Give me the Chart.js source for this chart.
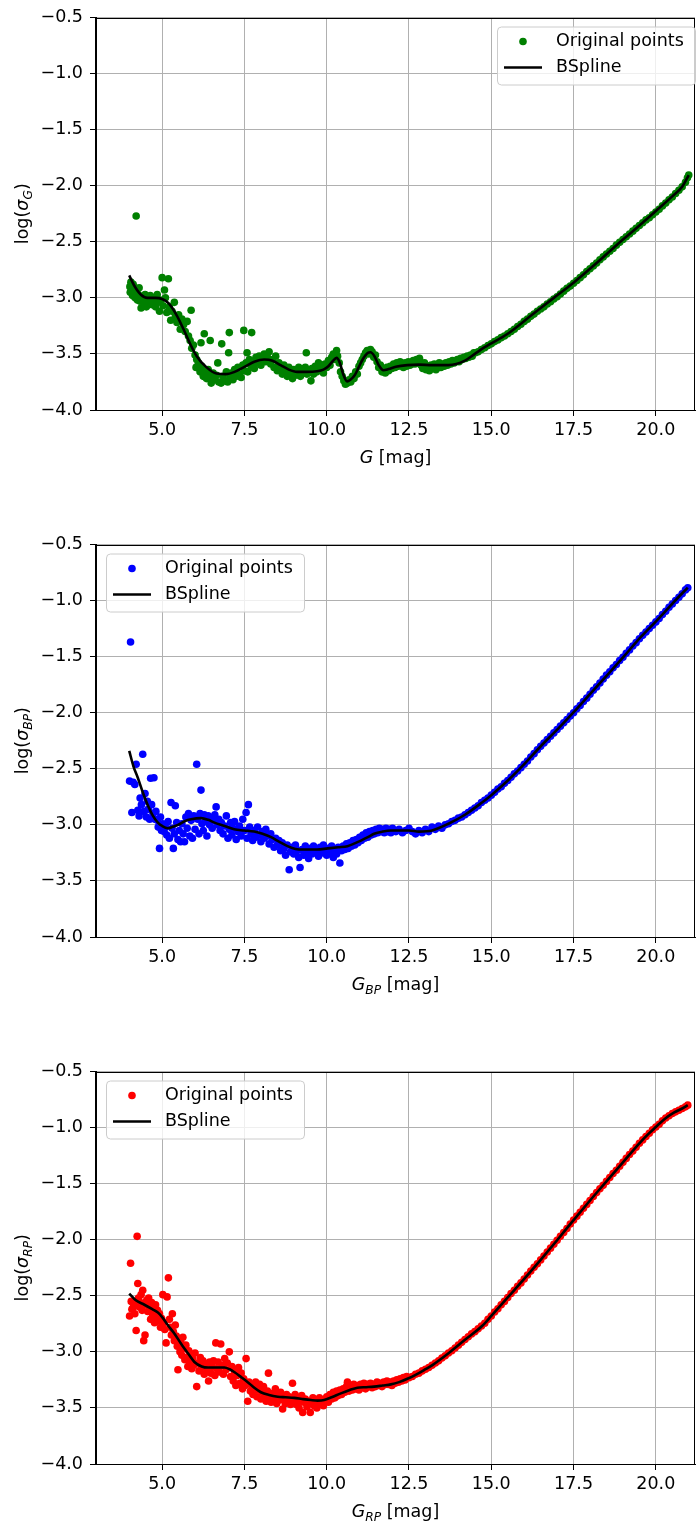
<!DOCTYPE html>
<html><head><meta charset="utf-8">
<script src="https://cdn.jsdelivr.net/npm/chart.js@4.4.1/dist/chart.umd.min.js"></script>
<style>
html,body{margin:0;padding:0;background:#fff;}
body{width:699px;height:1524px;position:relative;overflow:hidden;}
canvas{position:absolute;left:0;}
</style></head><body>
<canvas id="c1" width="699" height="527" style="top:0px"></canvas>
<canvas id="c2" width="699" height="527" style="top:527px"></canvas>
<canvas id="c3" width="699" height="470" style="top:1054px"></canvas>
<script>
// ---- tick labels ----
const xTicks = [5.0, 7.5, 10.0, 12.5, 15.0, 17.5, 20.0];
const yTicks = [-4.0, -3.5, -3.0, -2.5, -2.0, -1.5, -1.0, -0.5];
const legendLabels = ['Original points', 'BSpline'];

// ---- G band: [mag, log sigma] ----
const gPoints = [
[4.02,-2.90],[4.03,-2.95],[4.05,-2.86],[4.07,-2.93],[4.10,-2.98],[4.12,-2.88],[4.15,-2.92],[4.18,-3.00],[4.21,-2.27],[4.22,-2.95],
[4.25,-3.02],[4.28,-2.97],[4.30,-2.91],[4.33,-3.03],[4.36,-3.09],[4.40,-2.99],[4.44,-3.04],[4.48,-2.97],[4.52,-3.08],[4.55,-3.01],
[4.60,-3.05],[4.64,-2.98],[4.68,-3.06],[4.72,-3.03],[4.76,-3.00],[4.80,-3.08],[4.85,-2.97],[4.88,-3.04],[4.92,-3.12],[4.95,-3.02],
[5.00,-2.82],[5.03,-3.07],[5.07,-2.93],[5.10,-3.00],[5.14,-3.13],[5.19,-2.83],[5.22,-3.08],[5.26,-3.20],[5.30,-3.12],[5.37,-3.04],
[5.40,-3.17],[5.45,-3.22],[5.50,-3.15],[5.55,-3.28],[5.60,-3.19],[5.65,-3.24],[5.70,-3.30],[5.76,-3.21],[5.80,-3.34],[5.85,-3.38],
[5.88,-3.11],[5.90,-3.45],[5.95,-3.42],[6.00,-3.51],[6.03,-3.62],[6.05,-3.55],[6.10,-3.58],[6.15,-3.66],[6.18,-3.40],[6.20,-3.61],
[6.25,-3.70],[6.28,-3.32],[6.30,-3.66],[6.35,-3.72],[6.40,-3.64],[6.45,-3.70],[6.46,-3.38],[6.49,-3.76],[6.55,-3.67],[6.60,-3.73],
[6.65,-3.69],[6.69,-3.58],[6.72,-3.75],[6.79,-3.76],[6.81,-3.41],[6.85,-3.70],[6.90,-3.74],[6.95,-3.66],[6.99,-3.75],[7.02,-3.49],
[7.04,-3.31],[7.06,-3.71],[7.10,-3.67],[7.15,-3.73],[7.20,-3.64],[7.25,-3.70],[7.30,-3.62],[7.35,-3.68],[7.40,-3.71],[7.45,-3.60],
[7.48,-3.29],[7.50,-3.65],[7.55,-3.58],[7.58,-3.49],[7.60,-3.66],[7.65,-3.55],[7.70,-3.61],[7.72,-3.31],[7.75,-3.57],[7.80,-3.63],
[7.85,-3.53],[7.90,-3.58],[7.95,-3.52],[8.00,-3.60],[8.05,-3.55],[8.10,-3.50],[8.15,-3.57],[8.20,-3.53],[8.25,-3.48],[8.30,-3.59],
[8.35,-3.55],[8.40,-3.62],[8.45,-3.52],[8.50,-3.65],[8.55,-3.58],[8.60,-3.62],[8.65,-3.68],[8.70,-3.60],[8.75,-3.65],[8.80,-3.70],
[8.85,-3.62],[8.90,-3.67],[8.96,-3.72],[9.00,-3.64],[9.05,-3.69],[9.10,-3.66],[9.15,-3.62],[9.20,-3.70],[9.25,-3.64],[9.30,-3.67],
[9.35,-3.62],[9.38,-3.49],[9.40,-3.68],[9.45,-3.65],[9.52,-3.74],[9.55,-3.63],[9.60,-3.68],[9.65,-3.61],[9.70,-3.66],[9.75,-3.58],
[9.80,-3.64],[9.85,-3.60],[9.90,-3.67],[9.95,-3.59],[10.00,-3.62],[10.05,-3.56],[10.10,-3.60],[10.15,-3.53],[10.20,-3.50],[10.25,-3.55],
[10.30,-3.47],[10.33,-3.52],[10.38,-3.58],[10.42,-3.66],[10.47,-3.70],[10.52,-3.74],[10.57,-3.77],[10.63,-3.76],[10.68,-3.73],[10.73,-3.75],
[10.78,-3.70],[10.83,-3.72],[10.88,-3.66],[10.93,-3.68],[10.98,-3.61],[11.03,-3.58],[11.08,-3.55],[11.13,-3.52],[11.18,-3.49],[11.23,-3.47],
[11.28,-3.50],[11.33,-3.46],[11.38,-3.48],[11.43,-3.53],[11.48,-3.51],[11.53,-3.57],[11.58,-3.62],[11.63,-3.60],[11.68,-3.66],[11.73,-3.64],
[11.78,-3.67],[11.83,-3.62],[11.88,-3.65],[11.93,-3.61],[11.98,-3.63],[12.03,-3.59],[12.08,-3.62],[12.13,-3.58],[12.18,-3.61],[12.23,-3.57],
[12.28,-3.60],[12.33,-3.62],[12.38,-3.58],[12.43,-3.61],[12.48,-3.57],[12.53,-3.60],[12.58,-3.59],[12.63,-3.56],[12.68,-3.59],[12.73,-3.55],
[12.78,-3.58],[12.82,-3.54],[12.87,-3.60],[12.92,-3.63],[12.97,-3.58],[13.02,-3.64],[13.07,-3.61],[13.12,-3.65],[13.17,-3.60],[13.22,-3.63],
[13.27,-3.59],[13.32,-3.64],[13.37,-3.61],[13.42,-3.58],[13.47,-3.62],[13.52,-3.59],[13.57,-3.61],[13.62,-3.58],[13.67,-3.60],[13.72,-3.57],
[13.77,-3.59],[13.82,-3.56],[13.87,-3.58],[13.92,-3.57],[13.97,-3.55],[14.02,-3.57],[14.07,-3.54],[14.12,-3.55],[14.17,-3.53],[14.22,-3.54],
[14.27,-3.52],[14.32,-3.53],[14.37,-3.51],[14.42,-3.52],[14.47,-3.49],[14.52,-3.49],
[14.6,-3.48],[14.7,-3.46],[14.8,-3.445],[14.9,-3.425],[15.0,-3.41],[15.1,-3.39],[15.2,-3.375],[15.3,-3.355],[15.4,-3.34],[15.5,-3.32],
[15.6,-3.30],[15.7,-3.28],[15.8,-3.255],[15.9,-3.235],[16.0,-3.21],[16.1,-3.19],[16.2,-3.165],[16.3,-3.145],[16.4,-3.12],[16.5,-3.10],
[16.6,-3.08],[16.7,-3.055],[16.8,-3.035],[16.9,-3.01],[17.0,-2.99],[17.1,-2.965],[17.2,-2.94],[17.3,-2.915],[17.4,-2.895],[17.5,-2.87],
[17.6,-2.845],[17.7,-2.82],[17.8,-2.795],[17.9,-2.765],[18.0,-2.74],[18.1,-2.715],[18.2,-2.69],[18.3,-2.66],[18.4,-2.635],[18.5,-2.61],
[18.6,-2.585],[18.7,-2.56],[18.8,-2.53],[18.9,-2.505],[19.0,-2.48],[19.1,-2.455],[19.2,-2.43],[19.3,-2.405],[19.4,-2.38],[19.5,-2.355],
[19.6,-2.33],[19.7,-2.305],[19.8,-2.285],[19.9,-2.26],[20.0,-2.235],[20.1,-2.21],[20.2,-2.18],[20.3,-2.155],[20.4,-2.125],[20.5,-2.10],
[20.6,-2.07],[20.7,-2.04],[20.8,-2.01],[20.9,-1.97],[20.96,-1.93],[21.0,-1.905]
];
const gSplineMag = [4.0,4.15,4.35,4.55,4.8,5.0,5.2,5.45,5.65,5.85,6.05,6.35,6.65,6.95,7.2,7.5,7.8,8.1,8.35,8.6,8.85,9.1,9.4,9.7,9.9,10.05,10.18,10.3,10.4,10.5,10.62,10.72,10.85,10.97,11.1,11.25,11.33,11.45,11.58,11.72,11.88,12.1,12.45,12.8,13.2,13.7,14.2,14.5,14.8,15.5,16.2,16.9,17.5,18.2,19.0,19.6,20.0,20.5,20.8,21.0];
const gSplineLog = [-2.80,-2.89,-2.97,-3.0,-3.0,-3.01,-3.05,-3.16,-3.28,-3.41,-3.52,-3.62,-3.675,-3.68,-3.66,-3.615,-3.57,-3.55,-3.56,-3.6,-3.64,-3.66,-3.66,-3.655,-3.64,-3.61,-3.565,-3.535,-3.58,-3.68,-3.745,-3.73,-3.69,-3.62,-3.545,-3.49,-3.485,-3.52,-3.6,-3.645,-3.635,-3.615,-3.60,-3.595,-3.60,-3.60,-3.56,-3.50,-3.44,-3.32,-3.16,-3.0,-2.865,-2.69,-2.48,-2.33,-2.225,-2.095,-2.01,-1.905];

// ---- BP band ----
const bpPoints = [
[4.04,-1.37],[4.01,-2.61],[4.08,-2.89],[4.12,-2.62],[4.17,-2.64],[4.21,-2.46],[4.26,-2.87],[4.30,-2.92],[4.33,-2.76],[4.37,-2.82],
[4.41,-2.37],[4.45,-2.88],[4.48,-2.72],[4.52,-2.93],[4.55,-2.79],[4.58,-2.86],[4.62,-2.95],[4.65,-2.585],[4.68,-2.82],[4.72,-2.90],
[4.75,-2.58],[4.78,-2.95],[4.81,-2.88],[4.85,-2.96],[4.88,-3.02],[4.92,-3.21],[4.95,-2.93],[4.98,-3.05],[5.02,-2.99],[5.06,-3.06],
[5.10,-3.02],[5.14,-3.09],[5.18,-2.97],[5.22,-3.12],[5.27,-2.80],[5.30,-3.03],[5.34,-3.21],[5.37,-3.08],[5.40,-2.83],[5.44,-2.98],
[5.48,-3.13],[5.52,-3.05],[5.56,-3.15],[5.60,-2.99],[5.64,-3.08],[5.68,-3.15],[5.72,-2.93],[5.76,-3.03],[5.80,-2.90],[5.84,-3.10],
[5.88,-2.96],[5.92,-3.12],[5.96,-2.92],[6.00,-3.04],[6.05,-2.46],[6.08,-2.95],[6.12,-3.08],[6.15,-2.90],[6.18,-2.69],[6.21,-2.99],
[6.25,-3.05],[6.28,-2.91],[6.32,-2.97],[6.36,-3.10],[6.40,-2.92],[6.44,-3.00],[6.48,-2.94],[6.52,-3.03],[6.56,-2.96],[6.60,-2.91],
[6.64,-2.84],[6.68,-3.00],[6.72,-2.95],[6.76,-3.05],[6.80,-2.98],[6.85,-3.08],[6.90,-3.01],[6.95,-2.92],[7.00,-3.12],[7.04,-3.04],
[7.08,-2.98],[7.12,-3.09],[7.16,-3.03],[7.20,-2.97],[7.25,-3.13],[7.30,-3.06],[7.35,-3.01],[7.40,-3.10],[7.45,-2.95],[7.50,-3.05],
[7.55,-2.89],[7.58,-3.12],[7.62,-2.82],[7.66,-3.02],[7.70,-3.08],[7.75,-3.14],[7.80,-3.05],[7.85,-3.11],[7.90,-3.02],[7.95,-3.09],
[8.00,-3.15],[8.05,-3.06],[8.10,-3.12],[8.15,-3.04],[8.20,-3.10],[8.25,-3.17],[8.30,-3.08],[8.35,-3.13],[8.40,-3.20],[8.45,-3.12],
[8.50,-3.18],[8.55,-3.14],[8.60,-3.23],[8.65,-3.16],[8.70,-3.21],[8.75,-3.27],[8.80,-3.18],[8.86,-3.40],[8.90,-3.24],[8.95,-3.20],
[9.00,-3.26],[9.05,-3.18],[9.10,-3.23],[9.15,-3.29],[9.19,-3.38],[9.25,-3.22],[9.30,-3.27],[9.35,-3.19],[9.40,-3.24],[9.45,-3.30],
[9.50,-3.21],[9.55,-3.26],[9.60,-3.19],[9.65,-3.24],[9.70,-3.22],[9.75,-3.28],[9.80,-3.20],[9.85,-3.25],[9.90,-3.18],[9.95,-3.23],
[10.00,-3.27],[10.05,-3.21],[10.10,-3.25],[10.15,-3.19],[10.20,-3.29],[10.25,-3.22],[10.30,-3.26],[10.35,-3.20],[10.40,-3.34],[10.45,-3.23],
[10.50,-3.19],[10.55,-3.22],[10.60,-3.17],[10.65,-3.21],[10.70,-3.16],[10.75,-3.19],[10.80,-3.14],[10.85,-3.18],[10.90,-3.13],[10.95,-3.16],
[11.00,-3.11],[11.05,-3.14],[11.10,-3.09],[11.15,-3.12],[11.20,-3.07],[11.25,-3.11],[11.30,-3.06],[11.35,-3.09],[11.40,-3.05],[11.45,-3.08],
[11.50,-3.04],[11.55,-3.07],[11.60,-3.03],[11.65,-3.06],[11.70,-3.04],[11.75,-3.07],[11.80,-3.03],[11.85,-3.06],[11.90,-3.04],[11.95,-3.07],
[12.0,-3.03],[12.1,-3.06],[12.2,-3.04],[12.3,-3.07],[12.4,-3.05],[12.5,-3.03],[12.6,-3.06],[12.7,-3.08],[12.8,-3.05],[12.9,-3.07],
[13.0,-3.04],[13.1,-3.06],[13.2,-3.02],[13.3,-3.04],[13.4,-3.01],[13.5,-3.03],[13.6,-3.00],[13.7,-2.99],[13.8,-2.97],[13.9,-2.96],
[14.0,-2.94],[14.1,-2.93],[14.2,-2.91],[14.3,-2.89],[14.4,-2.87],[14.5,-2.85],[14.6,-2.83],[14.7,-2.80],[14.8,-2.78],[14.9,-2.76],
[15.0,-2.735],[15.1,-2.71],[15.2,-2.68],[15.3,-2.66],[15.4,-2.63],[15.5,-2.605],[15.6,-2.575],[15.7,-2.545],[15.8,-2.52],[15.9,-2.49],
[16.0,-2.46],[16.1,-2.43],[16.2,-2.395],[16.3,-2.365],[16.4,-2.33],[16.5,-2.30],[16.6,-2.27],[16.7,-2.24],[16.8,-2.21],[16.9,-2.18],
[17.0,-2.15],[17.1,-2.12],[17.2,-2.09],[17.3,-2.06],[17.4,-2.03],[17.5,-2.0],[17.6,-1.965],[17.7,-1.935],[17.8,-1.90],[17.9,-1.87],
[18.0,-1.835],[18.1,-1.80],[18.2,-1.77],[18.3,-1.735],[18.4,-1.70],[18.5,-1.665],[18.6,-1.635],[18.7,-1.60],[18.8,-1.57],[18.9,-1.535],
[19.0,-1.505],[19.1,-1.47],[19.2,-1.44],[19.3,-1.405],[19.4,-1.375],[19.5,-1.34],[19.6,-1.31],[19.7,-1.28],[19.8,-1.25],[19.9,-1.22],
[20.0,-1.19],[20.1,-1.16],[20.2,-1.125],[20.3,-1.095],[20.4,-1.06],[20.5,-1.03],[20.6,-1.0],[20.7,-0.97],[20.8,-0.94],[20.9,-0.905],[20.97,-0.885]
];
const bpSplineMag = [4.0,4.13,4.26,4.4,4.57,4.72,4.87,5.0,5.17,5.3,5.48,5.7,5.88,6.18,6.4,6.59,6.9,7.19,7.5,7.8,8.05,8.31,8.55,8.81,9.05,9.32,9.7,10.03,10.35,10.63,10.85,11.04,11.25,11.44,11.7,11.95,12.5,12.8,13.2,13.7,14.2,14.72,15.0,15.52,16.03,16.53,17.04,17.49,18.04,18.55,19.05,19.56,19.99,20.26,20.67,20.97];
const bpSplineLog = [-2.34,-2.48,-2.58,-2.70,-2.83,-2.92,-2.98,-3.01,-3.03,-3.02,-3.0,-2.965,-2.95,-2.94,-2.955,-2.98,-3.01,-3.04,-3.05,-3.06,-3.08,-3.11,-3.15,-3.19,-3.215,-3.22,-3.22,-3.21,-3.20,-3.19,-3.165,-3.14,-3.11,-3.08,-3.06,-3.05,-3.05,-3.06,-3.05,-2.99,-2.91,-2.80,-2.735,-2.60,-2.45,-2.29,-2.14,-2.0,-1.82,-1.655,-1.49,-1.32,-1.19,-1.105,-0.975,-0.885];

// ---- RP band ----
const rpPoints = [
[4.01,-2.68],[4.04,-2.21],[4.06,-2.55],[4.08,-2.62],[4.11,-2.61],[4.14,-2.57],[4.17,-2.66],[4.21,-2.81],[4.24,-1.97],[4.26,-2.39],
[4.28,-2.52],[4.31,-2.60],[4.34,-2.56],[4.36,-2.49],[4.39,-2.63],[4.41,-2.45],[4.44,-2.90],[4.48,-2.85],[4.50,-2.58],[4.53,-2.54],
[4.56,-2.64],[4.59,-2.52],[4.62,-2.60],[4.65,-2.71],[4.68,-2.56],[4.71,-2.67],[4.74,-2.62],[4.77,-2.74],[4.80,-2.58],[4.83,-2.69],
[4.86,-2.63],[4.89,-2.72],[4.92,-2.66],[4.95,-2.78],[4.98,-2.70],[5.02,-2.49],[5.05,-2.74],[5.08,-2.80],[5.12,-2.92],[5.15,-2.51],
[5.19,-2.34],[5.22,-2.71],[5.25,-2.78],[5.28,-2.85],[5.31,-2.66],[5.34,-2.82],[5.37,-2.90],[5.40,-2.76],[5.43,-2.86],[5.46,-2.95],
[5.48,-3.16],[5.51,-2.89],[5.54,-3.00],[5.57,-2.92],[5.60,-3.03],[5.63,-2.87],[5.66,-2.97],[5.69,-3.07],[5.72,-2.94],[5.75,-3.05],
[5.78,-3.13],[5.81,-2.99],[5.84,-3.09],[5.87,-3.02],[5.90,-3.15],[5.93,-3.06],[5.96,-3.12],[6.00,-3.01],[6.05,-3.31],[6.08,-3.10],
[6.12,-3.17],[6.16,-3.05],[6.20,-3.14],[6.24,-3.08],[6.28,-3.20],[6.32,-3.11],[6.36,-3.17],[6.41,-3.26],[6.44,-3.09],[6.48,-3.19],
[6.52,-3.13],[6.56,-3.08],[6.60,-3.21],[6.63,-2.92],[6.66,-3.15],[6.70,-3.09],[6.74,-3.18],[6.78,-2.93],[6.82,-3.12],[6.86,-3.20],
[6.90,-3.06],[6.94,-3.16],[6.98,-3.10],[7.04,-3.00],[7.08,-3.22],[7.12,-3.13],[7.16,-3.26],[7.20,-3.17],[7.24,-3.30],[7.28,-3.21],
[7.32,-3.14],[7.36,-3.28],[7.40,-3.19],[7.44,-3.33],[7.48,-3.24],[7.52,-3.30],[7.55,-3.06],[7.60,-3.44],[7.64,-3.27],[7.68,-3.35],
[7.72,-3.30],[7.76,-3.38],[7.80,-3.32],[7.84,-3.27],[7.88,-3.40],[7.92,-3.34],[7.96,-3.29],[8.00,-3.42],[8.04,-3.36],[8.08,-3.31],
[8.12,-3.39],[8.16,-3.44],[8.20,-3.35],[8.23,-3.19],[8.27,-3.40],[8.31,-3.45],[8.35,-3.37],[8.40,-3.42],[8.44,-3.33],[8.48,-3.46],
[8.52,-3.38],[8.56,-3.43],[8.60,-3.36],[8.66,-3.51],[8.70,-3.41],[8.74,-3.46],[8.78,-3.38],[8.82,-3.44],[8.86,-3.40],[8.90,-3.47],
[8.96,-3.28],[9.00,-3.43],[9.04,-3.38],[9.08,-3.47],[9.12,-3.41],[9.16,-3.50],[9.20,-3.44],[9.24,-3.39],[9.27,-3.54],[9.31,-3.45],
[9.35,-3.42],[9.40,-3.49],[9.44,-3.44],[9.50,-3.54],[9.54,-3.46],[9.58,-3.41],[9.62,-3.48],[9.66,-3.44],[9.70,-3.50],[9.74,-3.45],
[9.78,-3.41],[9.82,-3.47],[9.86,-3.43],[9.90,-3.48],[9.95,-3.44],[10.00,-3.40],[10.05,-3.45],[10.10,-3.38],[10.15,-3.42],[10.20,-3.36],
[10.25,-3.41],[10.30,-3.35],[10.35,-3.39],[10.40,-3.34],[10.45,-3.38],[10.50,-3.33],[10.55,-3.36],[10.60,-3.31],[10.63,-3.27],[10.68,-3.35],
[10.72,-3.30],[10.78,-3.34],[10.82,-3.29],[10.88,-3.33],[10.93,-3.30],[10.98,-3.34],[11.03,-3.29],[11.08,-3.32],[11.13,-3.28],[11.18,-3.33],
[11.23,-3.29],[11.28,-3.31],[11.33,-3.28],[11.38,-3.32],[11.43,-3.29],[11.48,-3.31],[11.53,-3.27],[11.58,-3.30],[11.63,-3.28],[11.68,-3.31],
[11.73,-3.27],[11.78,-3.29],[11.83,-3.26],[11.88,-3.29],[11.93,-3.27],[11.98,-3.30],[12.03,-3.26],[12.08,-3.28],[12.13,-3.25],[12.18,-3.27],
[12.23,-3.24],[12.28,-3.26],[12.33,-3.23],[12.38,-3.25],[12.43,-3.22],
[12.5,-3.23],[12.6,-3.22],[12.7,-3.20],[12.8,-3.19],[12.9,-3.17],[13.0,-3.155],[13.1,-3.14],[13.2,-3.12],[13.3,-3.10],[13.4,-3.08],
[13.5,-3.055],[13.6,-3.035],[13.7,-3.01],[13.8,-2.99],[13.9,-2.965],[14.0,-2.94],[14.1,-2.915],[14.2,-2.89],[14.3,-2.865],[14.4,-2.84],
[14.5,-2.82],[14.6,-2.795],[14.7,-2.77],[14.8,-2.745],[14.9,-2.71],[15.0,-2.68],[15.1,-2.645],[15.2,-2.615],[15.3,-2.58],[15.4,-2.55],
[15.5,-2.515],[15.6,-2.48],[15.7,-2.45],[15.8,-2.415],[15.9,-2.385],[16.0,-2.35],[16.1,-2.315],[16.2,-2.28],[16.3,-2.245],[16.4,-2.215],
[16.5,-2.18],[16.6,-2.145],[16.7,-2.11],[16.8,-2.075],[16.9,-2.04],[17.0,-2.005],[17.1,-1.97],[17.2,-1.935],[17.3,-1.90],[17.4,-1.86],
[17.5,-1.825],[17.6,-1.79],[17.7,-1.755],[17.8,-1.72],[17.9,-1.685],[18.0,-1.65],[18.1,-1.615],[18.2,-1.58],[18.3,-1.545],[18.4,-1.515],
[18.5,-1.48],[18.6,-1.445],[18.7,-1.41],[18.8,-1.38],[18.9,-1.345],[19.0,-1.31],[19.1,-1.275],[19.2,-1.24],[19.3,-1.21],[19.4,-1.175],
[19.5,-1.14],[19.6,-1.11],[19.7,-1.08],[19.8,-1.05],[19.9,-1.02],[20.0,-0.995],[20.1,-0.97],[20.2,-0.94],[20.3,-0.915],[20.4,-0.895],
[20.5,-0.875],[20.6,-0.86],[20.7,-0.845],[20.8,-0.83],[20.9,-0.815],[20.97,-0.80]
];
const rpSplineMag = [4.0,4.2,4.46,4.7,4.87,5.0,5.17,5.38,5.58,5.8,5.98,6.2,6.39,6.65,6.89,7.05,7.19,7.4,7.6,7.8,8.0,8.25,8.51,8.75,9.01,9.25,9.52,9.72,9.92,10.15,10.43,10.7,10.93,11.2,11.44,11.7,11.95,12.2,12.45,12.7,13.0,13.2,13.71,14.21,14.72,15.0,15.5,16.0,16.5,17.0,17.5,18.0,18.5,19.0,19.5,19.8,20.0,20.26,20.56,20.8,20.97];
const rpSplineLog = [-2.48,-2.54,-2.58,-2.62,-2.65,-2.69,-2.76,-2.84,-2.93,-3.02,-3.09,-3.13,-3.14,-3.14,-3.14,-3.155,-3.18,-3.225,-3.27,-3.32,-3.36,-3.385,-3.40,-3.405,-3.41,-3.42,-3.43,-3.435,-3.43,-3.405,-3.37,-3.34,-3.32,-3.315,-3.31,-3.30,-3.29,-3.27,-3.24,-3.205,-3.155,-3.12,-3.01,-2.89,-2.77,-2.68,-2.515,-2.35,-2.18,-2.005,-1.825,-1.65,-1.48,-1.31,-1.14,-1.05,-0.995,-0.925,-0.865,-0.83,-0.80];

// ---- rendering ----
const FAM = '"DejaVu Sans", "Liberation Sans", sans-serif';
const FS = 17.5;
const X_MIN = 2.99, X_MAX = 21.19, Y_MIN = -4.0, Y_MAX = -0.5;
const MARKER_R = 3.8;
const fmt = v => (v < 0 ? '\u2212' : '') + Math.abs(v).toFixed(1);

function partFont(p) {
  const size = p.sub ? FS * 0.7 : FS;
  return (p.it ? 'italic ' : '') + size + 'px ' + FAM;
}
function richWidth(ctx, parts) {
  let w = 0;
  for (const p of parts) { ctx.font = partFont(p); w += ctx.measureText(p.t).width; }
  return w;
}
function drawRich(ctx, parts, x, y) {
  ctx.textBaseline = 'alphabetic'; ctx.textAlign = 'left';
  for (const p of parts) {
    ctx.font = partFont(p);
    ctx.fillText(p.t, x, y + (p.sub ? FS * 0.24 : 0));
    x += ctx.measureText(p.t).width;
  }
}

const decor = {
  id: 'decor',
  afterDatasetsDraw(chart) {
    const ctx = chart.ctx, a = chart.chartArea;
    ctx.save();
    ctx.strokeStyle = '#000'; ctx.lineWidth = 1;
    ctx.strokeRect(Math.round(a.left) - 0.5, Math.round(a.top) + 0.5, Math.round(a.right - a.left), Math.round(a.bottom - a.top) - 1);
    ctx.restore();
  },
  afterDraw(chart, args, opts) {
    const ctx = chart.ctx, a = chart.chartArea;
    ctx.save();
    ctx.fillStyle = '#000';
    const yw = richWidth(ctx, opts.yTitle);
    ctx.translate(22, (a.top + a.bottom) / 2);
    ctx.rotate(-Math.PI / 2);
    drawRich(ctx, opts.yTitle, -yw / 2, 6);
    ctx.restore();
    ctx.save();
    ctx.fillStyle = '#000';
    const xw = richWidth(ctx, opts.xTitle);
    drawRich(ctx, opts.xTitle, (a.left + a.right) / 2 - xw / 2, 463);
    // legend
    const bw = 198, bh = 58;
    const bx = opts.legendSide === 'right' ? a.right - bw : a.left + 10;
    const by = a.top + 9;
    ctx.beginPath();
    ctx.roundRect(bx + 0.5, by + 0.5, bw, bh, 4);
    ctx.fillStyle = 'rgba(255,255,255,0.8)';
    ctx.fill();
    ctx.strokeStyle = '#cccccc'; ctx.lineWidth = 1;
    ctx.stroke();
    ctx.beginPath();
    ctx.arc(bx + 26, by + 15, MARKER_R, 0, Math.PI * 2);
    ctx.fillStyle = opts.color; ctx.fill();
    ctx.beginPath();
    ctx.moveTo(bx + 7, by + 41); ctx.lineTo(bx + 45, by + 41);
    ctx.strokeStyle = '#000'; ctx.lineWidth = 2.6; ctx.stroke();
    ctx.fillStyle = '#000';
    ctx.font = FS + 'px ' + FAM;
    ctx.textBaseline = 'middle'; ctx.textAlign = 'left';
    ctx.fillText(legendLabels[0], bx + 59, by + 15);
    ctx.fillText(legendLabels[1], bx + 59, by + 41);
    ctx.restore();
  }
};

function makeChart(id, H, pts, splX, splY, color, yTitle, xTitle, legendSide) {
  return new Chart(document.getElementById(id), {
    type: 'scatter',
    data: {
      datasets: [
        { label: legendLabels[0], data: pts.map(p => ({ x: p[0], y: p[1] })),
          backgroundColor: color, borderColor: color, borderWidth: 0, pointRadius: MARKER_R, order: 2 },
        { label: legendLabels[1], data: splX.map((x, i) => ({ x: x, y: splY[i] })),
          showLine: true, borderColor: '#000', backgroundColor: '#000', borderWidth: 2.6,
          pointRadius: 0, cubicInterpolationMode: 'monotone', fill: false, order: 1 }
      ]
    },
    options: {
      responsive: false, animation: false, devicePixelRatio: 1, events: [],
      layout: { padding: { top: 14, right: 1, left: 0, bottom: 0 } },
      plugins: {
        legend: { display: false }, tooltip: { enabled: false },
        decor: { yTitle: yTitle, xTitle: xTitle, legendSide: legendSide, color: color }
      },
      scales: {
        x: {
          type: 'linear', min: X_MIN, max: X_MAX,
          afterFit: s => { s.height = H - 410; },
          afterBuildTicks: s => { s.ticks = xTicks.map(v => ({ value: v })); },
          ticks: { callback: v => fmt(v), font: { family: FAM, size: FS }, color: '#000', padding: 4, maxRotation: 0, autoSkip: false },
          grid: { color: '#b0b0b0', lineWidth: 1, tickColor: '#000', tickLength: 6, tickWidth: 1 },
          border: { color: '#000', width: 1 }
        },
        y: {
          type: 'linear', min: Y_MIN, max: Y_MAX,
          afterFit: s => { s.width = 96; },
          afterBuildTicks: s => { s.ticks = yTicks.map(v => ({ value: v })); },
          ticks: { callback: v => fmt(v), font: { family: FAM, size: FS }, color: '#000', padding: 7, autoSkip: false },
          grid: { color: '#b0b0b0', lineWidth: 1, tickColor: '#000', tickLength: 6, tickWidth: 1 },
          border: { color: '#000', width: 1 }
        }
      }
    },
    plugins: [decor]
  });
}

makeChart('c1', 527, gPoints, gSplineMag, gSplineLog, '#008000',
  [{ t: 'log(' }, { t: '\u03c3', it: 1 }, { t: 'G', it: 1, sub: 1 }, { t: ')' }],
  [{ t: 'G', it: 1 }, { t: ' [mag]' }], 'right');
makeChart('c2', 527, bpPoints, bpSplineMag, bpSplineLog, '#0000ff',
  [{ t: 'log(' }, { t: '\u03c3', it: 1 }, { t: 'BP', it: 1, sub: 1 }, { t: ')' }],
  [{ t: 'G', it: 1 }, { t: 'BP', it: 1, sub: 1 }, { t: ' [mag]' }], 'left');
makeChart('c3', 470, rpPoints, rpSplineMag, rpSplineLog, '#ff0000',
  [{ t: 'log(' }, { t: '\u03c3', it: 1 }, { t: 'RP', it: 1, sub: 1 }, { t: ')' }],
  [{ t: 'G', it: 1 }, { t: 'RP', it: 1, sub: 1 }, { t: ' [mag]' }], 'left');
</script>
</body></html>
